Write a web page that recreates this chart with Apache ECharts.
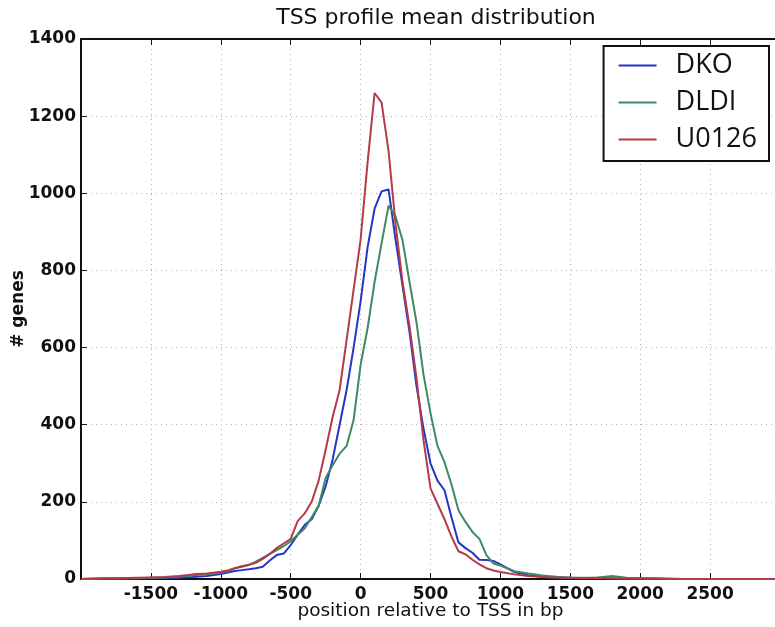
<!DOCTYPE html>
<html>
<head>
<meta charset="utf-8">
<title>TSS profile mean distribution</title>
<script src="https://cdn.jsdelivr.net/npm/echarts@6/dist/echarts.min.js"></script>
<style>
  html, body { margin: 0; padding: 0; background: #fff; }
  #chart { width: 775px; height: 627px; }
</style>
</head>
<body>
<div id="chart"></div>
<script>
  // position relative to TSS (bp)
  const positions = [
    -2000, -1900, -1800, -1700, -1600, -1500, -1400, -1300, -1200, -1100,
    -1000, -950, -900, -850, -800, -750, -700, -650, -600, -550,
    -500, -450, -400, -350, -300, -250, -200, -150, -100, -50,
    0, 50, 100, 150, 200, 250, 300, 350, 400, 450,
    500, 550, 600, 650, 700, 750, 800, 850, 900, 950,
    1000, 1100, 1200, 1300, 1400, 1500, 1600, 1700, 1800, 1900,
    2000, 2100, 2200, 2300, 2400, 2500, 2600, 2700, 2800, 2900, 3000
  ];

  const dko = [
    0, 0, 1, 1, 2, 2, 3, 3, 5, 8,
    13, 17, 21, 23, 25, 28, 32, 48, 62, 66,
    88, 115, 140, 155, 190, 240, 310, 400, 490, 600,
    720, 860, 960, 1005, 1010, 880, 760, 640, 500, 390,
    300, 255, 230, 160, 95, 80, 68, 50, 49, 47,
    38, 18, 10, 6, 4, 2, 2, 2, 1, 1,
    1, 1, 0, 0, 0, 0, 0, 0, 0, 0, 0
  ];

  const dldi = [
    0, 1, 1, 2, 2, 3, 4, 6, 10, 12,
    16, 20, 28, 32, 36, 45, 55, 65, 75, 85,
    98, 115, 131, 160, 190, 262, 295, 325, 345, 412,
    555, 650, 770, 870, 968, 940, 878, 770, 665, 530,
    430, 345, 303, 245, 178, 148, 122, 104, 62, 40,
    35, 20, 14, 9, 6, 4, 3, 4, 8, 3,
    2, 1, 1, 0, 0, 0, 0, 0, 0, 0, 0
  ];

  const u0126 = [
    0, 1, 2, 2, 3, 4, 5, 8, 12, 14,
    19, 22, 28, 33, 37, 42, 52, 65, 80, 92,
    104, 150, 170, 200, 255, 335, 420, 490, 620, 750,
    880, 1080, 1260, 1235, 1110, 920, 770, 655, 520, 360,
    235, 195, 155, 110, 72, 64, 50, 38, 28, 22,
    18, 12, 8, 5, 3, 3, 2, 3, 2, 1,
    1, 1, 0, 0, 0, 0, 0, 0, 0, 0, 0
  ];

  const seriesNames = ['DKO', 'DLDI', 'U0126'];
  const seriesColors = ['#2536c4', '#3f8a62', '#b53a48'];
  const seriesValues = [dko, dldi, u0126];

  const gridStyle = { color: '#a9adc8', type: [1, 4], width: 1 };
  const spine = { onZero: false, lineStyle: { color: '#111', width: 2 } };
  const tick = { inside: true, length: 6, lineStyle: { color: '#111', width: 1 } };
  const font = 'DejaVu Sans';
  const plain = v => String(v);

  const chart = echarts.init(document.getElementById('chart'), null, { renderer: 'canvas' });

  const option = {
    backgroundColor: '#fff',
    animation: false,
    title: {
      text: 'TSS profile mean distribution',
      left: 431,
      textAlign: 'center',
      top: 2,
      textStyle: { fontFamily: font, fontSize: 22, fontWeight: 'normal', color: '#111' }
    },
    legend: {
      data: seriesNames,
      orient: 'vertical',
      right: 6,
      top: 46,
      icon: 'rect',
      itemWidth: 38,
      itemHeight: 2,
      itemGap: 4,
      padding: [3, 12, 5, 15],
      borderColor: '#111',
      borderWidth: 2,
      borderRadius: 0,
      backgroundColor: '#fff',
      textStyle: {
        fontFamily: 'Open Sans', fontSize: 27, color: '#111',
        lineHeight: 33, padding: [0, 0, 0, 14]
      }
    },
    grid: { left: 81, right: -5, top: 39, bottom: 48, containLabel: false, outerBoundsMode: 'none' },
    xAxis: [{
      type: 'value',
      min: -2000,
      max: 3000,
      interval: 500,
      name: 'position relative to TSS in bp',
      nameLocation: 'middle',
      nameGap: 23,
      nameMoveOverlap: false,
      nameTextStyle: { fontFamily: font, fontSize: 18.5, color: '#111' },
      axisLine: spine,
      axisTick: tick,
      axisLabel: {
        showMinLabel: false, showMaxLabel: false, margin: 7, formatter: plain,
        fontFamily: font, fontSize: 17, fontWeight: 'bold', color: '#111'
      },
      splitLine: { show: true, lineStyle: gridStyle }
    }, {
      type: 'value',
      position: 'top',
      min: -2000,
      max: 3000,
      interval: 500,
      axisLine: spine,
      axisTick: tick,
      axisLabel: { show: false },
      splitLine: { show: false }
    }],
    yAxis: {
      type: 'value',
      min: 0,
      max: 1400,
      interval: 200,
      name: '# genes',
      nameLocation: 'middle',
      nameGap: 54,
      nameMoveOverlap: false,
      nameTextStyle: { fontFamily: font, fontSize: 17, fontWeight: 'bold', color: '#111' },
      axisLine: { show: true, onZero: false, lineStyle: { color: '#111', width: 2 } },
      axisTick: { show: true, inside: true, length: 6, lineStyle: { color: '#111', width: 1 } },
      axisLabel: { margin: 5, formatter: plain, fontFamily: font, fontSize: 17, fontWeight: 'bold', color: '#111' },
      splitLine: { show: true, lineStyle: gridStyle }
    },
    series: seriesNames.map((name, i) => ({
      name: name,
      type: 'line',
      xAxisIndex: 0,
      symbol: 'none',
      lineStyle: { color: seriesColors[i], width: 2 },
      itemStyle: { color: seriesColors[i] },
      data: positions.map((x, j) => [x, seriesValues[i][j]])
    }))
  };

  chart.setOption(option);
</script>
</body>
</html>
